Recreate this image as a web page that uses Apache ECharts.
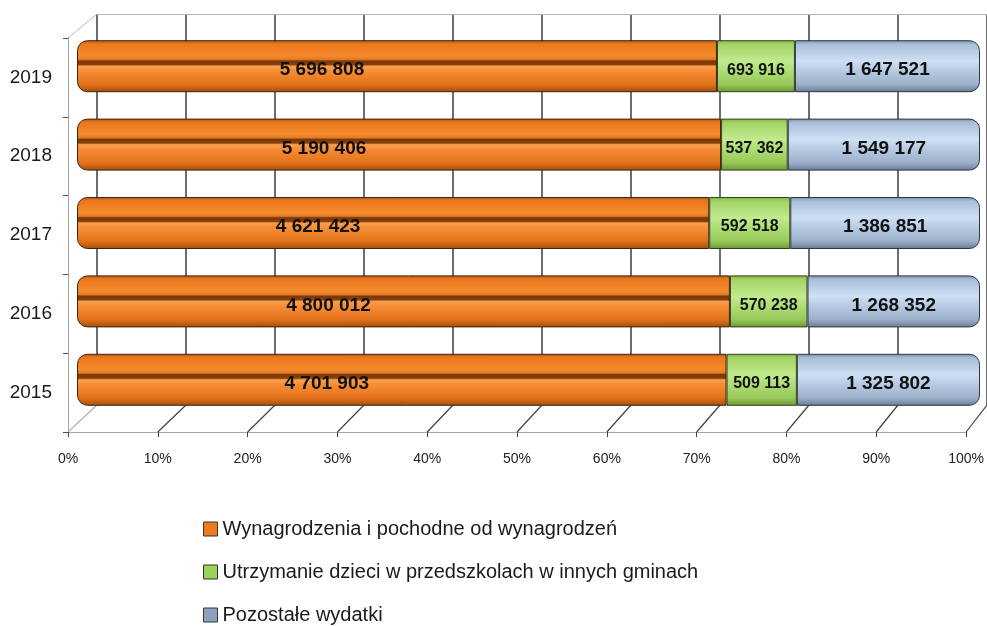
<!DOCTYPE html>
<html>
<head>
    <meta charset="UTF-8">
    <title>Wydatki 2015-2019</title>
    <script src="https://cdn.jsdelivr.net/npm/echarts@6/dist/echarts.min.js"></script>
    <style>
        html, body { margin: 0; padding: 0; background: #fff; }
        #chart { width: 987px; height: 626px; }
    </style>
</head>
<body>
<div id="chart"></div>
<script type="text/javascript">
    // dane z wykresu
    var years = ['2015', '2016', '2017', '2018', '2019'];
    var wynagrodzenia = [4701903, 4800012, 4621423, 5190406, 5696808];
    var utrzymanie = [509113, 570238, 592518, 537362, 693916];
    var pozostale = [1325802, 1268352, 1386851, 1549177, 1647521];
    var seriesNames = [
        'Wynagrodzenia i pochodne od wynagrodzeń',
        'Utrzymanie dzieci w przedszkolach w innych gminach',
        'Pozostałe wydatki'
    ];

    // układ "3D": przednia ściana, tylna ściana, słupki pomiędzy
    var FRONT = {left: 68, top: 38, width: 902, height: 394};
    var BACK = {left: 97, top: 14, width: 902, height: 391};
    var BARS = {left: 77, top: 27, width: 903, height: 392};

    var totals = years.map(function (y, i) {
        return wynagrodzenia[i] + utrzymanie[i] + pozostale[i];
    });
    function pct(arr) {
        return arr.map(function (v, i) { return v / totals[i] * 100; });
    }
    function fmt(n) {
        return String(n).replace(/\B(?=(\d{3})+(?!\d))/g, ' ');
    }
    function grad(stops) {
        return new echarts.graphic.LinearGradient(0, 0, 0, 1, stops.map(function (s) {
            return {offset: s[0], color: s[1]};
        }));
    }

    var orangeFill = grad([
        [0, '#b5560c'], [0.07, '#e9781c'], [0.3, '#f58a2c'], [0.37, '#e27a26'],
        [0.4, '#7a3606'], [0.47, '#8a4008'], [0.5, '#f9a050'], [0.6, '#f68c34'],
        [0.85, '#e2731a'], [1, '#a44c0a']
    ]);
    var greenFill = grad([
        [0, '#7fb33e'], [0.08, '#a3d466'], [0.4, '#c2ea8e'], [0.55, '#b2e07a'],
        [0.85, '#98c95a'], [1, '#6a9532']
    ]);
    var blueFill = grad([
        [0, '#7a8ea8'], [0.08, '#a9bed8'], [0.4, '#cde0f5'], [0.55, '#bbcee6'],
        [0.85, '#9cb0ca'], [1, '#687a92']
    ]);

    var labelFont = 'Liberation Sans';
    var narrowFont = '"Liberation Sans Narrow", "Liberation Sans", sans-serif';

    var myChart = echarts.init(document.getElementById('chart'));

    var option = {
        backgroundColor: '#ffffff',
        animation: false,
        grid: [
            {left: FRONT.left, top: FRONT.top, width: FRONT.width, height: FRONT.height},
            {left: BACK.left, top: BACK.top, width: BACK.width, height: BACK.height},
            {left: BARS.left, top: BARS.top, width: BARS.width, height: BARS.height}
        ],
        xAxis: [
            {
                gridIndex: 0, type: 'value', min: 0, max: 100, interval: 10,
                axisLine: {show: true, lineStyle: {color: '#a6a6a6', width: 1}},
                axisTick: {show: true, length: 5, lineStyle: {color: '#404040'}},
                axisLabel: {
                    formatter: '{value}%', margin: 20, color: '#222',
                    fontFamily: narrowFont, fontSize: 14
                },
                splitLine: {show: false}
            },
            {
                gridIndex: 1, type: 'value', min: 0, max: 100, interval: 10, position: 'top',
                axisLine: {show: true, lineStyle: {color: '#b8b8b8', width: 1}},
                axisTick: {show: false},
                axisLabel: {show: false},
                splitLine: {show: true, lineStyle: {color: '#3c3c3c', width: 1.5}}
            },
            {
                gridIndex: 2, type: 'value', min: 0, max: 100, show: false
            }
        ],
        yAxis: [
            {
                gridIndex: 0, type: 'category', data: years,
                axisLine: {show: true, lineStyle: {color: '#a6a6a6'}},
                axisTick: {show: true, length: 5, lineStyle: {color: '#505050'}},
                axisLabel: {margin: 16, color: '#1a1a1a', fontFamily: labelFont, fontSize: 19},
                splitLine: {show: false}
            },
            {gridIndex: 1, type: 'category', data: years, show: false},
            {gridIndex: 2, type: 'category', data: years, show: false}
        ],
        legend: {
            orient: 'vertical',
            left: 203,
            top: 519,
            padding: 0,
            itemWidth: 14,
            itemHeight: 14,
            itemGap: 23,
            icon: 'rect',
            textStyle: {fontFamily: labelFont, fontSize: 20, lineHeight: 20, color: '#1a1a1a'},
            data: [
                {name: seriesNames[0], itemStyle: {color: '#ee7b1c', borderColor: '#333', borderWidth: 1}},
                {name: seriesNames[1], itemStyle: {color: '#9bd25a', borderColor: '#333', borderWidth: 1}},
                {name: seriesNames[2], itemStyle: {color: '#8ea2bd', borderColor: '#333', borderWidth: 1}}
            ]
        },
        series: [
            {
                name: seriesNames[0], type: 'bar', stack: 'suma',
                xAxisIndex: 2, yAxisIndex: 2, barWidth: 52,
                data: pct(wynagrodzenia),
                itemStyle: {color: orangeFill, borderColor: '#3d2410', borderWidth: 1, borderRadius: [10, 0, 0, 10]},
                label: {
                    show: true, position: 'inside', offset: [-75, 4],
                    fontFamily: labelFont, fontWeight: 'bold', fontSize: 19, color: '#111',
                    formatter: function (p) { return fmt(wynagrodzenia[p.dataIndex]); }
                }
            },
            {
                name: seriesNames[1], type: 'bar', stack: 'suma',
                xAxisIndex: 2, yAxisIndex: 2, barWidth: 52,
                data: pct(utrzymanie),
                itemStyle: {color: greenFill, borderColor: '#34401c', borderWidth: 1},
                label: {
                    show: true, position: 'inside', offset: [0, 4],
                    fontFamily: labelFont, fontWeight: 'bold', fontSize: 16, color: '#111',
                    formatter: function (p) { return fmt(utrzymanie[p.dataIndex]); }
                }
            },
            {
                name: seriesNames[2], type: 'bar', stack: 'suma',
                xAxisIndex: 2, yAxisIndex: 2, barWidth: 52,
                data: pct(pozostale),
                itemStyle: {color: blueFill, borderColor: '#2e3642', borderWidth: 1, borderRadius: [0, 10, 10, 0]},
                label: {
                    show: true, position: 'inside', offset: [0, 4],
                    fontFamily: labelFont, fontWeight: 'bold', fontSize: 19, color: '#111',
                    formatter: function (p) { return fmt(pozostale[p.dataIndex]); }
                }
            }
        ]
    };
    myChart.setOption(option);

    // podłoga i lewy górny skos - linie łączące przednią i tylną ścianę
    var ticks = [];
    for (var t = 0; t <= 100; t += 10) ticks.push(t);
    var lines = ticks.map(function (v) {
        var xf = myChart.convertToPixel({xAxisIndex: 0}, v);
        var xb = myChart.convertToPixel({xAxisIndex: 1}, v);
        return {
            type: 'line', silent: true, z: 0,
            shape: {x1: xf, y1: FRONT.top + FRONT.height, x2: xb, y2: BACK.top + BACK.height},
            style: {stroke: v === 0 ? '#b0b0b0' : '#404040', lineWidth: 1.2}
        };
    });
    lines.push({
        type: 'line', silent: true, z: 0,
        shape: {x1: FRONT.left, y1: FRONT.top, x2: BACK.left, y2: BACK.top},
        style: {stroke: '#b8b8b8', lineWidth: 1}
    });
    myChart.setOption({graphic: lines});
</script>
</body>
</html>
